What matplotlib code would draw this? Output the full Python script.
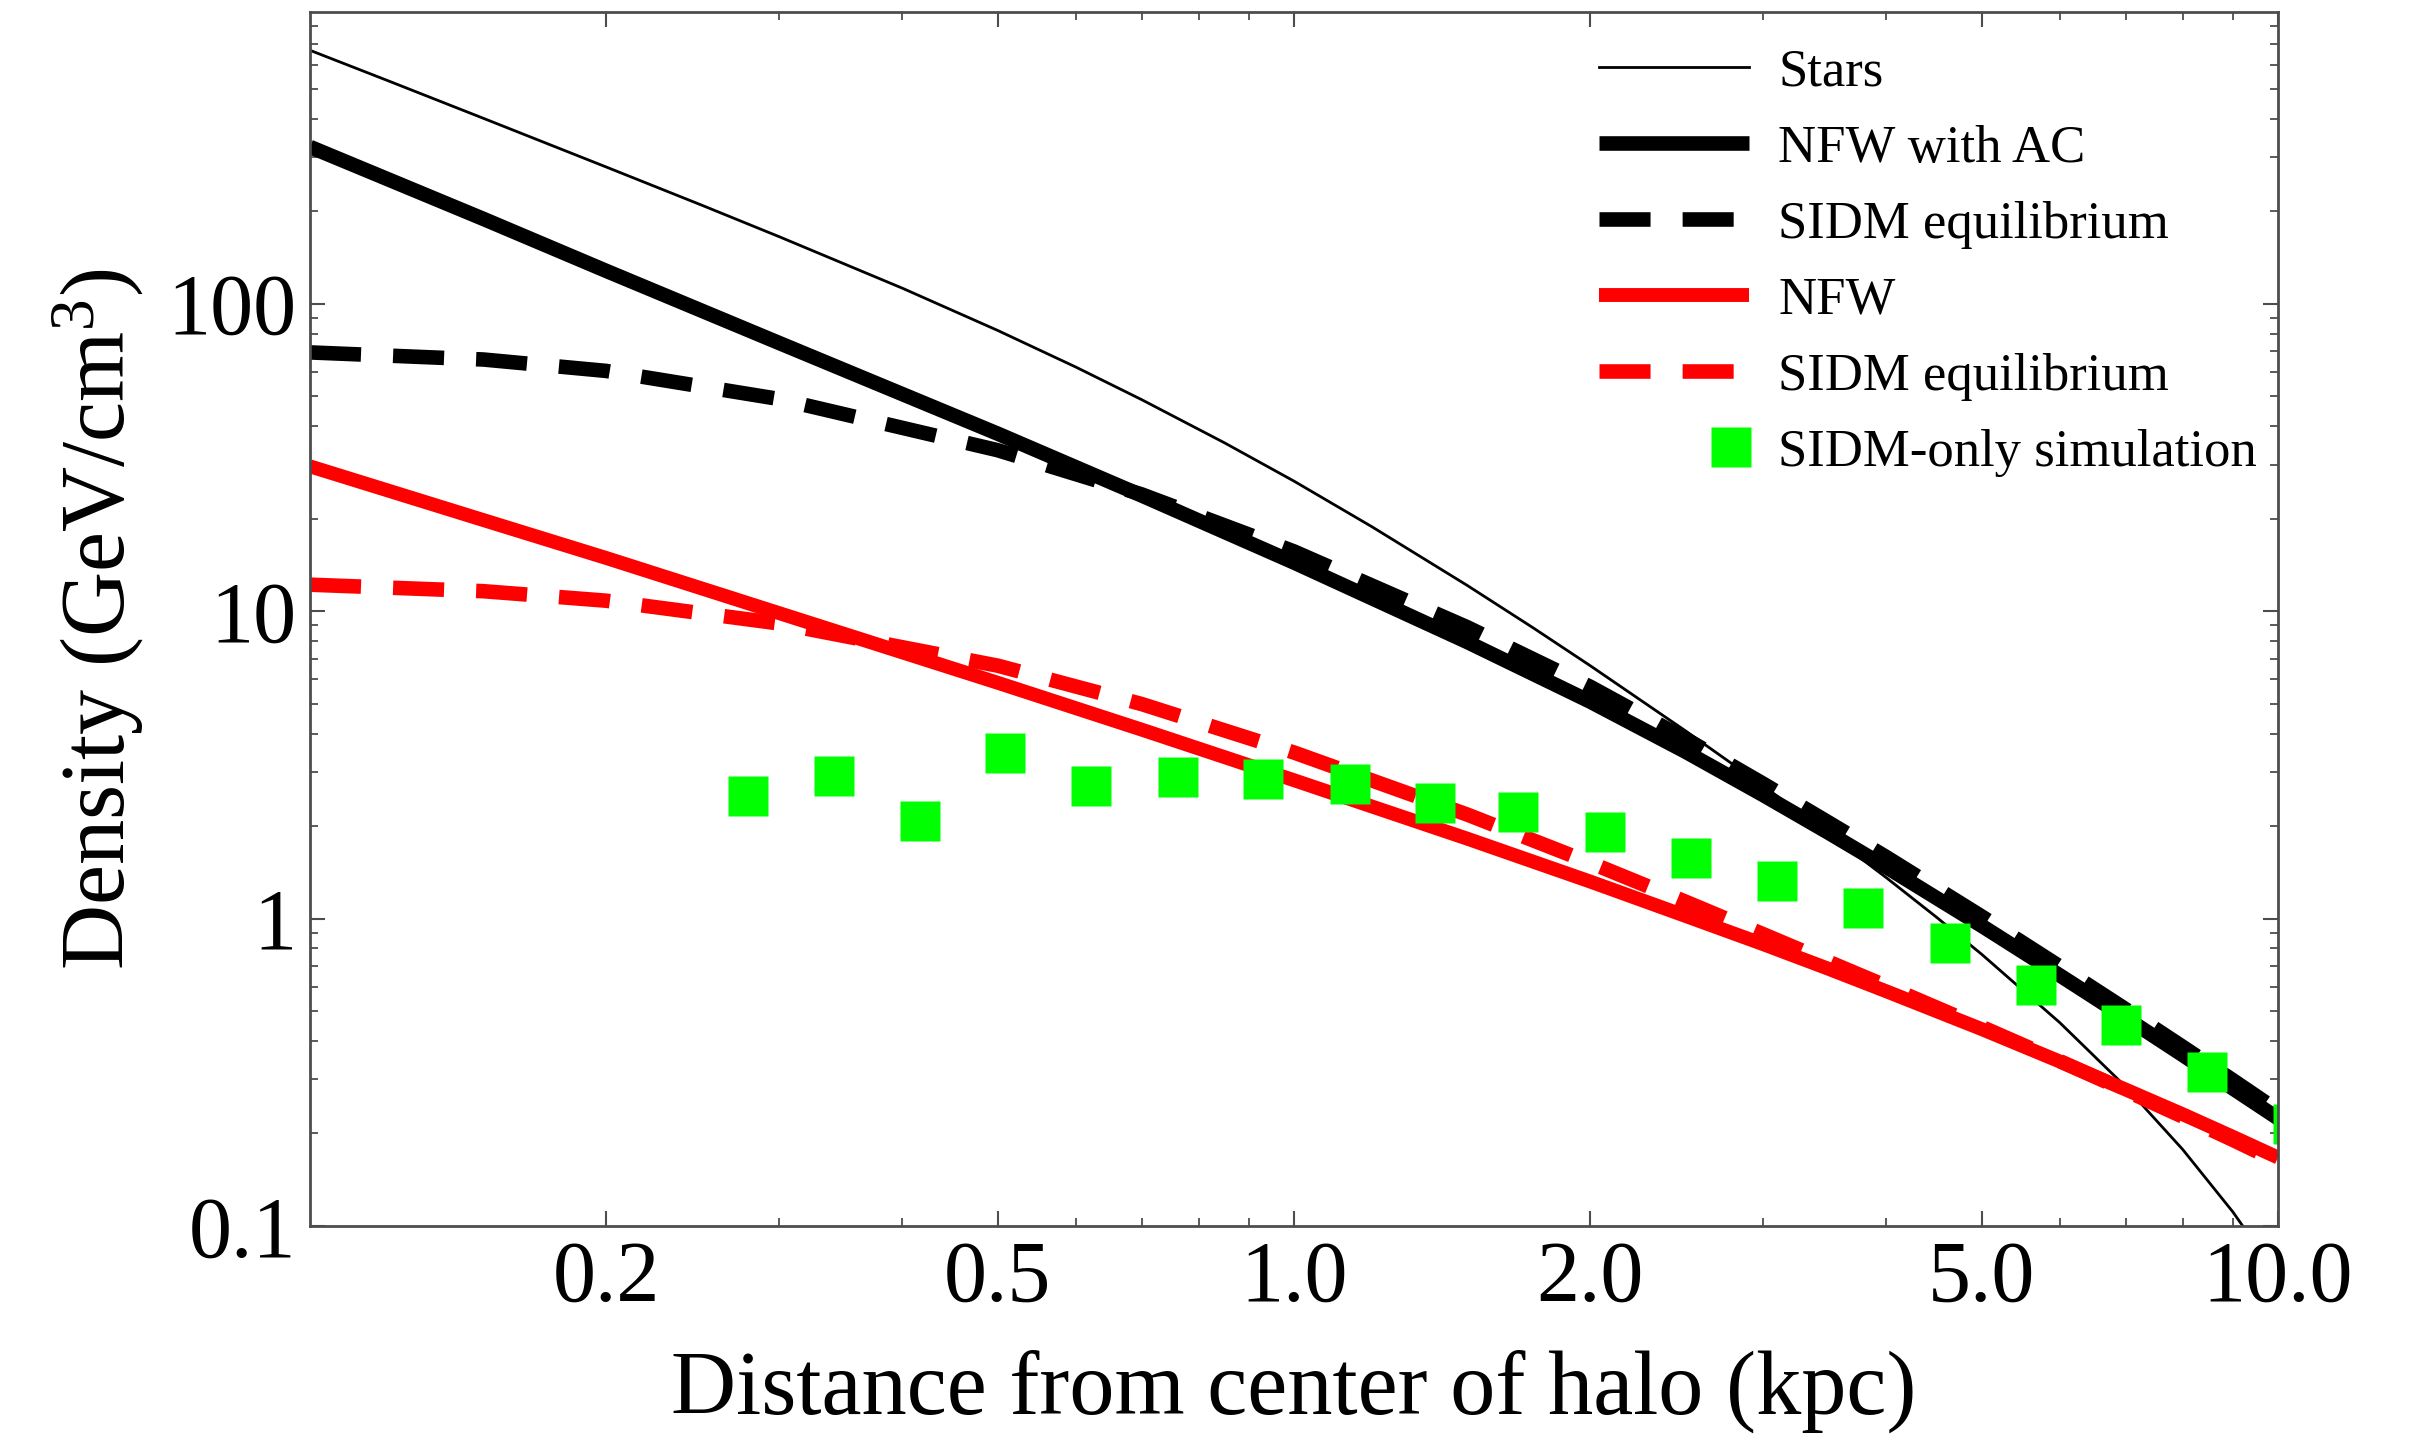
import matplotlib
matplotlib.use("Agg")
import matplotlib.pyplot as plt
from matplotlib.legend_handler import HandlerLine2D
from matplotlib.ticker import FixedLocator, FixedFormatter, LogLocator, NullFormatter

plt.rcParams['font.family'] = ['Liberation Serif', 'DejaVu Serif']
plt.rcParams['mathtext.fontset'] = 'custom'
plt.rcParams['mathtext.rm'] = 'Liberation Serif'
plt.rcParams['mathtext.it'] = 'Liberation Serif:italic'
plt.rcParams['mathtext.bf'] = 'Liberation Serif:bold'

# radius (kpc) and density profiles (GeV/cm^3)
r_kpc = [0.1, 0.15, 0.2, 0.3, 0.5, 0.7, 1.0, 1.5, 2.0, 2.5, 3.0, 3.5, 4.0, 5.0, 6.0, 7.0, 8.0, 9.0, 10.0]
nfw_ac = [324, 189, 128, 74.5, 37.8, 23.8, 14.4, 7.94, 5.08, 3.49, 2.52, 1.895, 1.47, 0.947, 0.654, 0.476, 0.36, 0.28, 0.224]
sidm_ac = [69.5, 65.9, 60.5, 49.0, 33.4, 24.0, 15.65, 8.87, 5.68, 3.845, 2.744, 2.048, 1.585, 1.016, 0.699, 0.5075, 0.383, 0.298, 0.237]
nfw = [29.6, 19.8, 14.9, 9.85, 5.85, 4.12, 2.82, 1.82, 1.32, 1.02, 0.825, 0.685, 0.58, 0.437, 0.343, 0.278, 0.231, 0.195, 0.167]
sidm = [12.2, 11.62, 10.82, 9.12, 6.65, 4.99, 3.47, 2.18, 1.52, 1.135, 0.889, 0.722, 0.603, 0.444, 0.344, 0.276, 0.227, 0.1905, 0.162]

# stellar profile is thin, so it is read at more radii
r_stars = [0.1, 0.12, 0.15, 0.2, 0.25, 0.3, 0.4, 0.5, 0.6, 0.7, 0.85, 1.0, 1.2, 1.5, 1.75,
           2.0, 2.5, 3.0, 3.5, 4.0, 4.5, 5.0, 6.0, 7.0, 8.0, 9.0, 10.0]
stars = [668, 532, 401.5, 278.7, 209.5, 165.2, 112.4, 81.9, 62.3, 48.8, 35.3, 26.5, 18.83, 12.13, 8.83,
         6.65, 4.08, 2.70, 1.878, 1.358, 1.009, 0.765, 0.459, 0.284, 0.1775, 0.111, 0.0686]

# SIDM-only simulation points
sim_r = [0.279, 0.341, 0.417, 0.508, 0.622, 0.762, 0.929, 1.14, 1.39, 1.69,
         2.07, 2.53, 3.10, 3.79, 4.64, 5.67, 6.92, 8.47, 10.36]
sim_rho = [2.50, 2.91, 2.08, 3.45, 2.70, 2.88, 2.85, 2.75, 2.38, 2.22,
           1.92, 1.58, 1.33, 1.08, 0.83, 0.61, 0.45, 0.317, 0.215]

xticks = [0.2, 0.5, 1, 2, 5, 10]
xtick_labels = ['0.2', '0.5', '1.0', '2.0', '5.0', '10.0']
xminor = [0.3, 0.4, 0.6, 0.7, 0.8, 0.9, 3, 4, 6, 7, 8, 9]
yticks = [0.1, 1, 10, 100]
ytick_labels = ['0.1', '1', '10', '100']


class RightMarker(HandlerLine2D):
    # legend marker sits near the right end of the handle, as in the original
    def get_xdata(self, legend, xdescent, ydescent, width, height, fontsize):
        xm = -xdescent + 0.88 * width
        return [xm - 1, xm + 1], [xm]


W, H = 2418, 1438
fig = plt.figure(figsize=(W / 100, H / 100), dpi=100)
ax = fig.add_axes([310 / W, 1 - 1226 / H, (2278 - 310) / W, (1226 - 12) / H])

dash = (3.5, 2.2)
ax.plot(r_stars, stars, color='black', lw=2, label='Stars')
ax.plot(r_kpc, nfw_ac, color='black', lw=10.5, solid_capstyle='butt', label='NFW with AC')
ax.plot(r_kpc, sidm_ac, color='black', lw=10.5, dashes=dash, label='SIDM equilibrium')
ax.plot(r_kpc, nfw, color='#ff0000', lw=10, solid_capstyle='butt', label='NFW')
ax.plot(r_kpc, sidm, color='#ff0000', lw=10.5, dashes=dash, label='SIDM equilibrium')
sim, = ax.plot(sim_r, sim_rho, ls='none', marker='s', ms=29, color='#00ff00',
               mec='none', label='SIDM-only simulation')

ax.set_xscale('log')
ax.set_yscale('log')
ax.set_xlim(0.1, 10)
ax.set_ylim(0.1, 890)

ax.xaxis.set_major_locator(FixedLocator(xticks))
ax.xaxis.set_major_formatter(FixedFormatter(xtick_labels))
ax.xaxis.set_minor_locator(FixedLocator(xminor))
ax.xaxis.set_minor_formatter(NullFormatter())
ax.yaxis.set_major_locator(FixedLocator(yticks))
ax.yaxis.set_major_formatter(FixedFormatter(ytick_labels))
ax.yaxis.set_minor_locator(LogLocator(base=10, subs=range(2, 10)))
ax.yaxis.set_minor_formatter(NullFormatter())

ax.tick_params(which='both', direction='in', top=True, right=True,
               color='0.3', labelsize=62)
ax.tick_params(which='major', length=11, width=1.5, pad=10)
ax.tick_params(which='minor', length=5.5, width=1.3)
for s in ax.spines.values():
    s.set_linewidth(2)
    s.set_color('0.3')

ax.set_xlabel('Distance from center of halo (kpc)', fontsize=65, labelpad=22)
ax.set_ylabel('Density (GeV/cm$^3$)', fontsize=65, labelpad=16)

ax.legend(loc='upper right', bbox_to_anchor=(1.0, 0.987), frameon=False,
          fontsize=38, handlelength=2.85, handletextpad=0.55, labelspacing=0.53,
          numpoints=1, borderaxespad=0, handler_map={sim: RightMarker(numpoints=1)})

fig.savefig('out.png', dpi=100)
